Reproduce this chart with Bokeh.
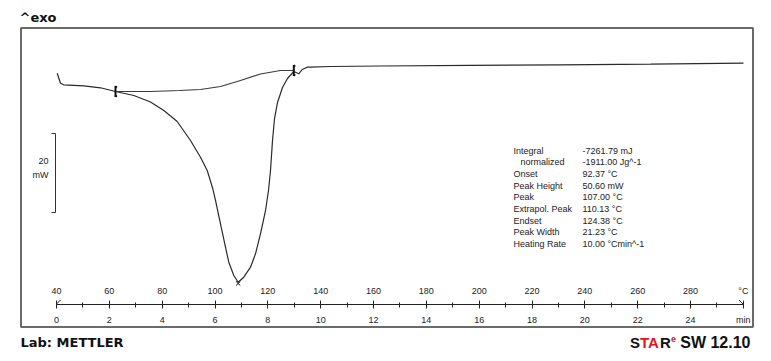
from bokeh.plotting import figure
from bokeh.models import (Range1d, LinearAxis, SingleIntervalTicker)
from bokeh.core.properties import value
from bokeh.embed import file_html
from bokeh.resources import INLINE

# ---------------- data ----------------
# DSC curve: sample temperature (°C) vs heat flow (mW, arbitrary offset)
temp_c = [40.26, 41.51, 42.76, 50.33, 56.66, 62.33, 69.26, 75.58, 80.62, 85.69,
          90.72, 94.51, 97.05, 99.17, 100.19, 102.08, 103.97, 105.22, 107.12, 108.78,
          110.90, 113.44, 115.33, 117.22, 119.12, 120.25, 121.01, 121.77, 122.53, 123.66,
          125.55, 127.44, 129.83, 131.72, 133.01, 134.90, 136.15, 143.70, 162.65, 196.70,
          230.80, 264.90, 300.06]
heat_mw = [4.63, 2.10, 1.70, 1.44, 0.94, 0.00, -1.01, -2.66, -4.81, -7.59,
           -12.41, -16.63, -20.00, -24.63, -27.59, -33.49, -39.42, -43.22, -46.58, -48.28,
           -47.01, -44.48, -41.09, -36.03, -30.13, -25.06, -20.00, -12.41, -6.84, -2.78,
           1.01, 3.29, 5.06, 4.48, 5.57, 6.15, 6.15, 6.33, 6.46, 6.63,
           6.76, 6.94, 7.16]

# integration baseline (sigmoid) between onset and endset limits
base_temp = [62.33, 69.15, 75.58, 86.67, 94.51, 102.08, 109.65, 117.22, 124.79, 129.83]
base_mw = [0.00, 0.00, 0.00, 0.25, 0.51, 1.27, 2.78, 4.43, 5.32, 5.32]

limit_temp = [62.33, 129.83]
limit_mw = [0.00, 5.32]

peak_temp = [108.78]
peak_mw = [-48.60]

scale_bar_mw = 20

temp_ticks = list(range(40, 301, 20))
time_ticks = list(range(0, 27, 2))

result_labels = ["Integral", "normalized", "Onset", "Peak Height", "Peak",
                 "Extrapol. Peak", "Endset", "Peak Width", "Heating Rate"]
result_values = ["-7261.79 mJ", "-1911.00 Jg^-1", "92.37 °C", "50.60 mW", "107.00 °C",
                 "110.13 °C", "124.38 °C", "21.23 °C", "10.00 °Cmin^-1"]

heating_rate = 10.0   # K/min
start_temp = 40.0

# ---------------- page geometry helpers (positions only) ----------------
PXC = 2.6417   # px per °C
PXM = 3.95     # px per mW

def tx(px):    # page x -> °C
    return start_temp + (px - 56) / PXC

def my(py):    # page y -> mW
    return (91 - py) / PXM

W, H = 763, 353
x0, x1 = tx(0), tx(W)
y1, y0 = my(0), my(H)

p = figure(width=W, height=H, x_range=Range1d(x0, x1), y_range=Range1d(y0, y1),
           x_axis_type=None, y_axis_type=None, toolbar_location=None,
           output_backend="svg", min_border=0)
p.outline_line_color = None
p.background_fill_color = "white"
p.border_fill_color = "white"
p.extra_x_ranges = {"time": Range1d((x0 - start_temp) / heating_rate,
                                    (x1 - start_temp) / heating_rate)}

FONT = value("Liberation Sans")

# frame box
p.quad(left=[tx(20.5)], right=[tx(752.5)], top=[my(27.5)], bottom=[my(326.5)],
       fill_color=None, line_color="#6a6a6a", line_width=2)

# temperature axis (labels above the line)
ax_t = LinearAxis(fixed_location=my(303.5),
                  ticker=SingleIntervalTicker(interval=20, num_minor_ticks=2),
                  bounds=(temp_ticks[0], temp_ticks[-1]))
ax_t.major_label_overrides = {temp_ticks[-1]: "°C"}
ax_t.axis_line_color = "#222222"
ax_t.major_tick_line_color = "#222222"
ax_t.minor_tick_line_color = "#222222"
ax_t.major_tick_in = 4
ax_t.major_tick_out = 4
ax_t.minor_tick_in = 3
ax_t.minor_tick_out = 2
ax_t.major_label_standoff = 4
ax_t.major_label_text_font = "Liberation Sans"
ax_t.major_label_text_font_size = "9px"
ax_t.major_label_text_color = "#222222"
p.add_layout(ax_t, "above")

# time axis (labels below the line)
ax_m = LinearAxis(fixed_location=my(303.5), x_range_name="time",
                  ticker=SingleIntervalTicker(interval=2, num_minor_ticks=0),
                  bounds=(time_ticks[0], time_ticks[-1]))
ax_m.major_label_overrides = {time_ticks[-1]: "min"}
ax_m.axis_line_color = None
ax_m.major_tick_line_color = None
ax_m.minor_tick_line_color = None
ax_m.major_tick_in = 0
ax_m.major_tick_out = 0
ax_m.major_label_standoff = 11
ax_m.major_label_text_font = "Liberation Sans"
ax_m.major_label_text_font_size = "9px"
ax_m.major_label_text_color = "#222222"
p.add_layout(ax_m, "below")

# axis end decorations
p.segment(x0=[tx(56), tx(742.5)], y0=[my(303.5), my(303.5)],
          x1=[tx(60), tx(738.5)], y1=[my(299.5), my(299.5)],
          line_color="#222222", line_width=1)

# curves
p.line(temp_c, heat_mw, line_color="#2a2a2a", line_width=1.2)
p.line(base_temp, base_mw, line_color="#3a3a3a", line_width=1.2)

# integration limit markers
lim_half = 5.5 / PXM
p.segment(x0=limit_temp, y0=[v + lim_half for v in limit_mw],
          x1=limit_temp, y1=[v - lim_half for v in limit_mw],
          line_color="#111111", line_width=2)
p.segment(x0=limit_temp, y0=[v + lim_half for v in limit_mw],
          x1=[t + 1.5 / PXC for t in limit_temp], y1=[v + lim_half - 1.5 / PXM for v in limit_mw],
          line_color="#111111", line_width=1.5)
p.segment(x0=limit_temp, y0=[v - lim_half for v in limit_mw],
          x1=[t + 1.5 / PXC for t in limit_temp], y1=[v - lim_half + 1.5 / PXM for v in limit_mw],
          line_color="#111111", line_width=1.5)

# peak marker
p.scatter(peak_temp, peak_mw, marker="x", size=6, line_color="#111111", line_width=1)

# 20 mW scale bar
sb_top = my(133)
sb_x = tx(55)
p.segment(x0=[sb_x, sb_x, sb_x], y0=[sb_top, sb_top, sb_top - scale_bar_mw],
          x1=[sb_x, tx(51), tx(51)], y1=[sb_top - scale_bar_mw, sb_top, sb_top - scale_bar_mw],
          line_color="#333333", line_width=1)
p.text(x=[tx(48), tx(48)], y=[my(160.5), my(174)], text=[str(scale_bar_mw), "mW"],
       text_align="right", text_baseline="middle", text_font=FONT,
       text_font_size="9px", text_color="#222222")

# results table
row_y = [my(150 + i * 11.67) for i in range(len(result_labels))]
label_x = [tx(520) if lab == "normalized" else tx(513) for lab in result_labels]
p.text(x=label_x, y=row_y, text=result_labels,
       text_align="left", text_baseline="middle", text_font=FONT,
       text_font_size="9px", text_color="#222222")
p.text(x=[tx(582)] * len(result_values), y=row_y, text=result_values,
       text_align="left", text_baseline="middle", text_font=FONT,
       text_font_size="9px", text_color="#222222")

# header / footer texts
p.text(x=[tx(19)], y=[my(16.5)], text=["^exo"], text_align="left", text_baseline="middle",
       text_font=value("DejaVu Sans"), text_font_style="bold", text_font_size="13px",
       text_color="#111111")
p.text(x=[tx(20)], y=[my(341.5)], text=["Lab: METTLER"], text_align="left",
       text_baseline="middle", text_font=value("DejaVu Sans"), text_font_style="bold",
       text_font_size="13px", text_color="#111111")

BOLD = value("Liberation Sans")
p.text(x=[tx(750)], y=[my(341.5)], text=["SW 12.10"], text_align="right",
       text_baseline="middle", text_font=BOLD, text_font_style="bold",
       text_font_size="16px", text_color="#111111")
p.text(x=[tx(629.5), tx(659.5)], y=[my(341.5), my(341.5)], text=["S", "R"],
       text_align="left", text_baseline="middle", text_font=BOLD, text_font_style="bold",
       text_font_size="15px", text_color="#111111")
p.text(x=[tx(639.5)], y=[my(341.5)], text=["TA"], text_align="left",
       text_baseline="middle", text_font=BOLD, text_font_style="bold",
       text_font_size="15px", text_color="#e3141b")
p.text(x=[tx(670.5)], y=[my(338)], text=["e"], text_align="left",
       text_baseline="middle", text_font=BOLD, text_font_style="bold",
       text_font_size="9px", text_color="#e3141b")

open("out.html", "w").write(file_html(p, INLINE))
